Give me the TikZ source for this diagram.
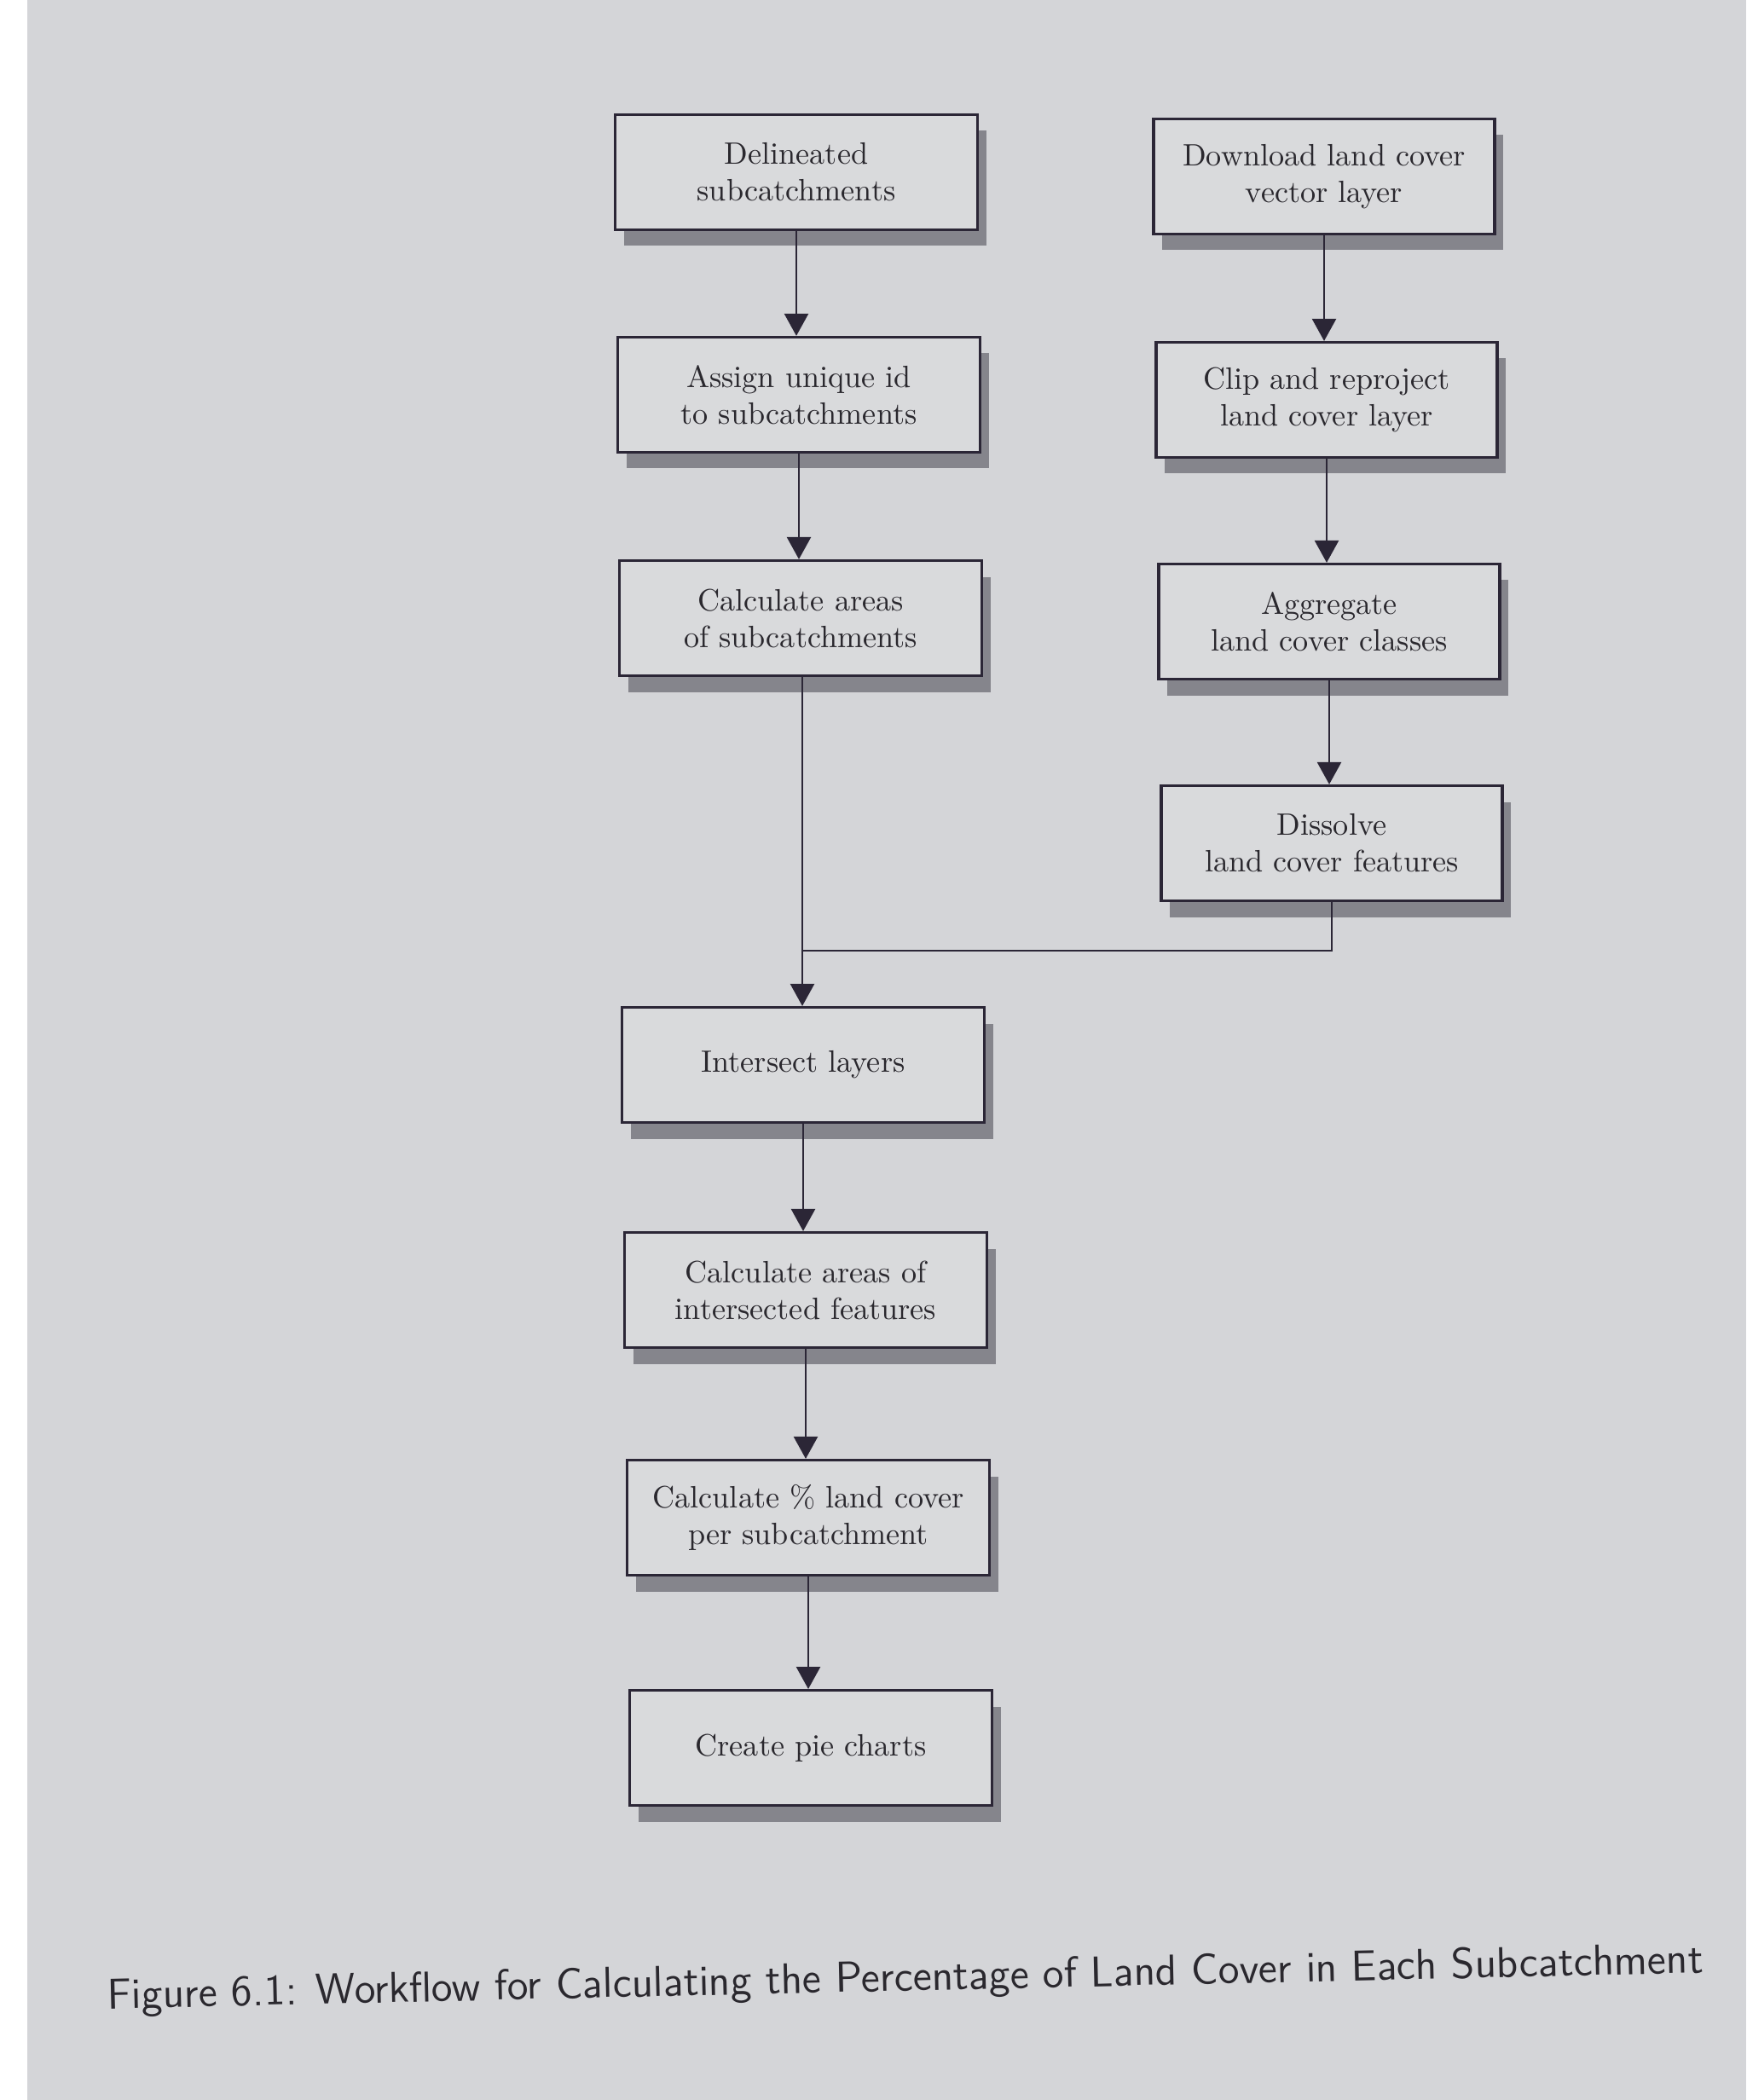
\documentclass[tikz,border=0pt]{standalone}
\usetikzlibrary{arrows.meta,shadows}
\definecolor{pagegray}{HTML}{D4D5D8}
\definecolor{boxfill}{HTML}{D9DADC}
\definecolor{shadowgray}{HTML}{85858C}
\definecolor{inkline}{HTML}{2B2636}
\definecolor{inktext}{HTML}{2A282E}
\begin{document}
\begin{tikzpicture}[
    stepbox/.style={draw=inkline, line width=0.9pt, fill=boxfill, text=inktext,
        minimum width=4.25cm, minimum height=1.35cm, align=center,
        font=\fontsize{10.3}{12.2}\selectfont,
        drop shadow={shadow xshift=1mm, shadow yshift=-1.9mm, fill=shadowgray, opacity=1}},
    rightbox/.style={stepbox, minimum width=4.0cm},
    flow/.style={draw=inkline, line width=0.7pt, -{Triangle[width=2.8mm,length=2.6mm]}}
]
    \useasboundingbox (0,0) rectangle (20.48,-24.63);
    \fill[white] (0,0) rectangle (0.32,-24.63);
    \fill[pagegray] (0.32,0) rectangle (20.48,-24.63);

    % left column
    \node[stepbox] (dlin)    at (9.34,-2.02)  {Delineated\\subcatchments};
    \node[stepbox] (assign)  at (9.37,-4.63)  {Assign unique id\\to subcatchments};
    \node[stepbox] (calcsub) at (9.39,-7.25)  {Calculate areas\\of subcatchments};
    \node[stepbox] (inter)   at (9.42,-12.49) {Intersect layers};
    \node[stepbox] (calcint) at (9.45,-15.13) {Calculate areas of\\intersected features};
    \node[stepbox] (calcpct) at (9.48,-17.80) {Calculate \% land cover\\per subcatchment};
    \node[stepbox] (pie)     at (9.51,-20.50) {Create pie charts};

    % right column
    \node[rightbox] (dl)   at (15.53,-2.07) {Download land cover\\vector layer};
    \node[rightbox] (clip) at (15.56,-4.69) {Clip and reproject\\land cover layer};
    \node[rightbox] (aggr) at (15.59,-7.29) {Aggregate\\land cover classes};
    \node[rightbox] (diss) at (15.62,-9.89) {Dissolve\\land cover features};

    \coordinate (join) at (9.41,-11.15);

    \draw[flow] (dlin.south) -- (dlin.south |- assign.north);
    \draw[flow] (assign.south) -- (assign.south |- calcsub.north);
    \draw[flow] (join |- calcsub.south) -- (join |- inter.north);
    \draw[flow] (inter.south) -- (inter.south |- calcint.north);
    \draw[flow] (calcint.south) -- (calcint.south |- calcpct.north);
    \draw[flow] (calcpct.south) -- (calcpct.south |- pie.north);

    \draw[flow] (dl.south) -- (dl.south |- clip.north);
    \draw[flow] (clip.south) -- (clip.south |- aggr.north);
    \draw[flow] (aggr.south) -- (aggr.south |- diss.north);
    \draw[draw=inkline, line width=0.7pt] (diss.south) |- (join);

    \node[rotate=1.3, text=inktext, font=\sffamily\fontsize{14.4}{17}\selectfont] (caption) at (10.62,-23.22)
        {Figure 6.1: Workflow for Calculating the Percentage of Land Cover in Each Subcatchment};
\end{tikzpicture}
\end{document}
